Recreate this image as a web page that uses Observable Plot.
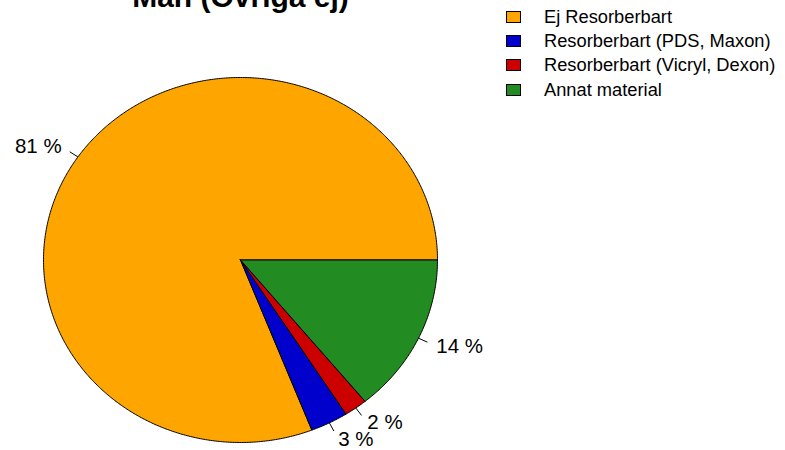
<!DOCTYPE html>
<html>
<head>
<meta charset="utf-8">
<script src="https://cdn.jsdelivr.net/npm/d3@7"></script>
<script src="https://cdn.jsdelivr.net/npm/@observablehq/plot@0.6"></script>
<style>
  html, body { margin: 0; padding: 0; background: #fff; }
  #wrap { position: relative; width: 785px; height: 450px; overflow: hidden; font-family: "Liberation Sans", Arial, sans-serif; }
  #legend { position: absolute; left: 506px; top: 5px; font-size: 18.3px; color: #000; }
  .row { display: flex; align-items: center; height: 24.2px; }
  .sw { width: 13px; height: 10px; border: 1px solid #000; margin-right: 23px; box-sizing: content-box; }
</style>
</head>
<body>
<div id="wrap"><div id="legend"></div></div>
<script>
const title = "Män (Övriga ej)";
const categories = ["Ej Resorberbart", "Resorberbart (PDS, Maxon)", "Resorberbart (Vicryl, Dexon)", "Annat material"];
const values = [80.9, 3.1, 1.9, 14.1];
const colors = ["#FFA500", "#0000CD", "#CD0000", "#228B22"];

const total = d3.sum(values);
let cum = 0;
const slices = categories.map((name, i) => {
  const a0 = cum / total * 2 * Math.PI;
  cum += values[i];
  const a1 = cum / total * 2 * Math.PI;
  const mid = (a0 + a1) / 2;
  return {name, value: values[i], color: colors[i], a0, a1, mid,
          label: Math.round(values[i] / total * 100) + " %"};
});

const pts = [];
for (const s of slices) {
  pts.push({name: s.name, color: s.color, x: 0, y: 0});
  const n = Math.max(2, Math.ceil((s.a1 - s.a0) / (Math.PI / 360)));
  for (let k = 0; k <= n; k++) {
    const a = s.a0 + (s.a1 - s.a0) * k / n;
    pts.push({name: s.name, color: s.color, x: Math.cos(a), y: Math.sin(a)});
  }
  pts.push({name: s.name, color: s.color, x: 0, y: 0});
}

const font = "Liberation Sans, Arial, sans-serif";
const chart = Plot.plot({
  width: 785, height: 450, margin: 0,
  x: {domain: [-1, 1], range: [43, 437], axis: null},
  y: {domain: [-1, 1], range: [442, 77], axis: null},
  color: {type: "identity"},
  style: {fontFamily: font, background: "#fff", overflow: "hidden"},
  marks: [
    Plot.line(pts, {x: "x", y: "y", z: "name", fill: "color", stroke: "#000", strokeWidth: 1, strokeLinejoin: "round", curve: "linear"}),
    Plot.link(slices, {x1: d => Math.cos(d.mid), y1: d => Math.sin(d.mid), x2: d => 1.05 * Math.cos(d.mid), y2: d => 1.05 * Math.sin(d.mid), stroke: "#000", strokeWidth: 1}),
    Plot.text(slices, {filter: d => Math.cos(d.mid) >= 0, x: d => 1.1 * Math.cos(d.mid), y: d => 1.1 * Math.sin(d.mid), text: "label", textAnchor: "start", fontSize: 20.5, fill: "#000"}),
    Plot.text(slices, {filter: d => Math.cos(d.mid) < 0, x: d => 1.1 * Math.cos(d.mid), y: d => 1.1 * Math.sin(d.mid), text: "label", textAnchor: "end", fontSize: 20.5, fill: "#000"}),
    Plot.text([title], {x: () => 0, text: d => d, frameAnchor: "top", dy: 6, lineAnchor: "bottom", fontSize: 30, fontWeight: "bold", fill: "#000"})
  ]
});
document.getElementById("wrap").prepend(chart);

const legend = document.getElementById("legend");
categories.forEach((c, i) => {
  const row = document.createElement("div");
  row.className = "row";
  const sw = document.createElement("div");
  sw.className = "sw";
  sw.style.background = colors[i];
  const t = document.createElement("span");
  t.textContent = c;
  row.append(sw, t);
  legend.append(row);
});
</script>
</body>
</html>
